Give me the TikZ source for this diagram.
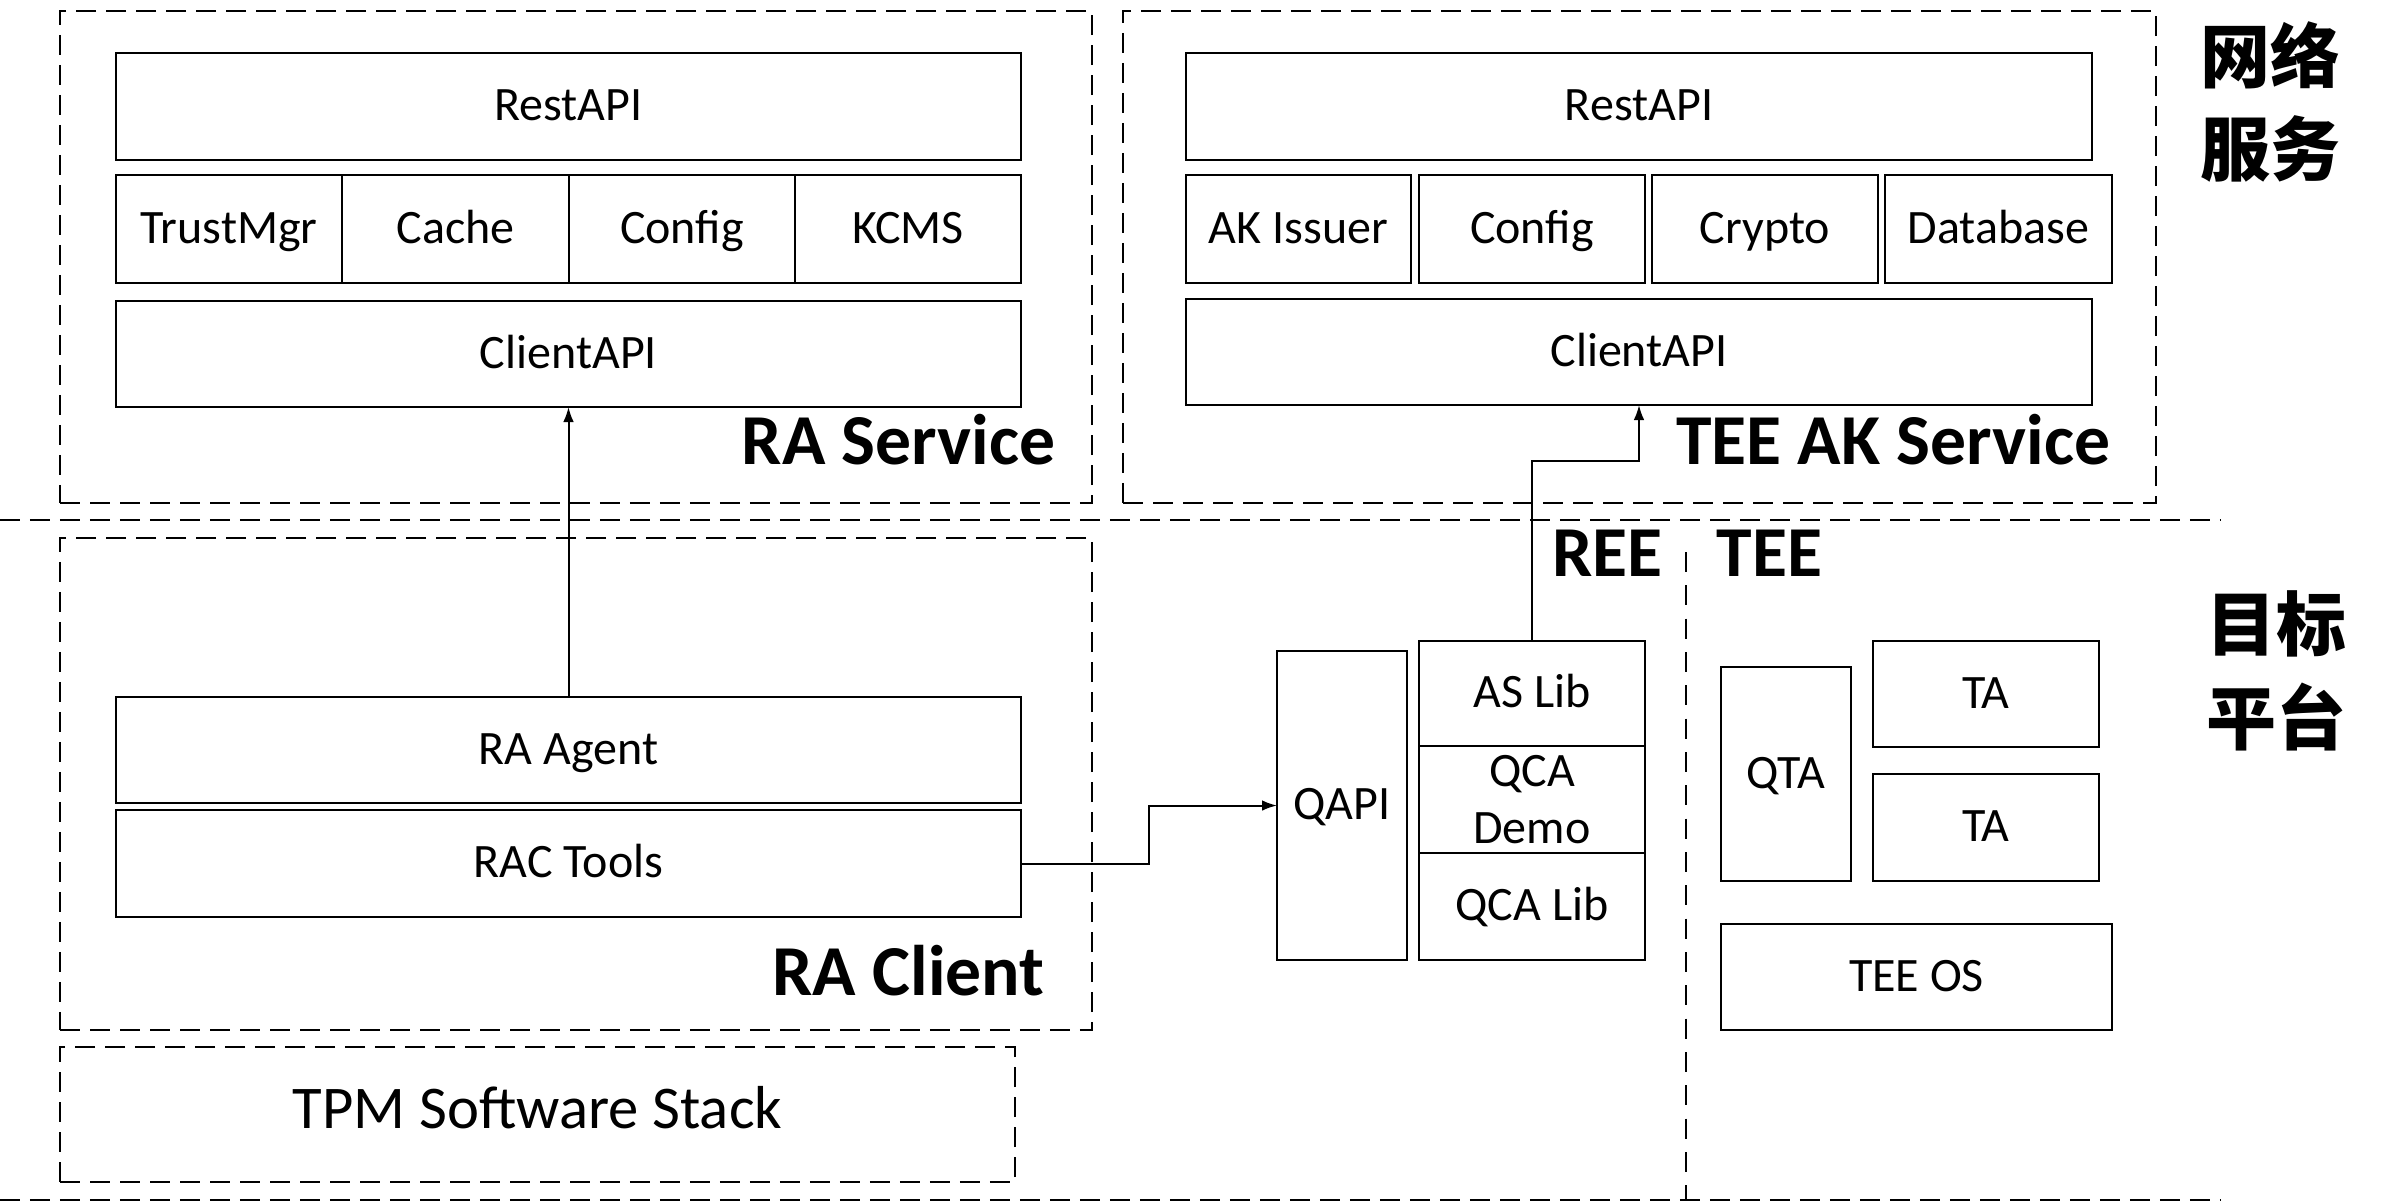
\documentclass[tikz,border=0pt]{standalone}
\usepackage{fontspec}
\setmainfont{Carlito}
\newfontfamily\cjk{Noto Sans CJK SC}
\usetikzlibrary{arrows.meta}
\tikzset{
  boxml/.style={draw, line width=0.75pt, inner sep=0pt, outer sep=0pt, font=\fontsize{14.4}{17.2}\selectfont, align=center},
  box/.style={boxml, text height=0.84em, text depth=0pt},
  dbox/.style={draw, line width=0.85pt, dash pattern=on 6pt off 3pt, inner sep=0pt, outer sep=0pt, text height=0.84em, text depth=0pt},
  dline/.style={line width=0.85pt, dash pattern=on 6pt off 3pt},
  vdline/.style={line width=0.7pt, dash pattern=on 6pt off 4pt},
  biglabel/.style={font=\fontsize{21.5}{25}\selectfont\bfseries, anchor=base east, inner sep=0pt},
  cjklabel/.style={font=\fontsize{21}{28}\selectfont\cjk\bfseries, align=center, inner sep=0pt},
  arr/.style={line width=0.6pt, -{Latex[length=4.5pt,width=3.2pt]}}
}
\newcommand\mybox[7][box]{%
  \node[#1, minimum width={(#5-#3)*0.3pt}, minimum height={(#6-#4)*0.3pt}] (#2) at ({(#3+#5)/2},{(#4+#6)/2}) {#7};}
\begin{document}
\begin{tikzpicture}[x=0.3pt, y=-0.3pt]
\useasboundingbox (0,0) rectangle (2382,1202);
% region separators
\draw[dline] (0,520) -- (2220,520);
\draw[dline] (0,1200) -- (2220,1200);
\draw[vdline] (1686,552) -- (1686,1200);
% dashed groups
\mybox[dbox]{rasvc}{60}{11}{1092}{503}{}
\mybox[dbox]{teesvc}{1123}{11}{2156}{503}{}
\mybox[dbox]{racli}{60}{538}{1092}{1030}{}
\mybox[dbox]{tpm}{60}{1047}{1015}{1182}{\fontsize{18.2}{22}\selectfont TPM Software Stack}
% RA Service
\mybox{rarest}{116}{53}{1021}{160}{RestAPI}
\mybox{trust}{116}{175}{342}{283}{TrustMgr}
\mybox{cache}{342}{175}{569}{283}{Cache}
\mybox{config}{569}{175}{795}{283}{Config}
\mybox{kcms}{795}{175}{1021}{283}{KCMS}
\mybox{raclientapi}{116}{301}{1021}{407}{ClientAPI}
\node[biglabel] (rasvclbl) at (1056,464) {RA Service};
% TEE AK Service
\mybox{teerest}{1186}{53}{2092}{160}{RestAPI}
\mybox{akissuer}{1186}{175}{1411}{283}{AK Issuer}
\mybox{teeconfig}{1419}{175}{1645}{283}{Config}
\mybox{crypto}{1652}{175}{1878}{283}{Crypto}
\mybox{database}{1885}{175}{2112}{283}{Database}
\mybox{teeclientapi}{1186}{299}{2092}{405}{ClientAPI}
\node[biglabel] (teesvclbl) at (2111,464) {TEE AK Service};
% side labels
\node[cjklabel] (netsvc) at (2270,102) {网络\\服务};
\node[cjklabel] (target) at (2276,671) {目标\\平台};
% RA Client
\mybox{raagent}{116}{697}{1021}{803}{RA Agent}
\mybox{ractools}{116}{810}{1021}{917}{RAC Tools}
\node[biglabel] (raclilbl) at (1045,995) {RA Client};
% REE / TEE
\node[biglabel] (reelbl) at (1663,576) {REE};
\node[biglabel] (teelbl) at (1823,576) {TEE};
\mybox{qapi}{1277}{651}{1407}{960}{QAPI}
\mybox{aslib}{1419}{641}{1645}{746}{AS Lib}
\mybox[boxml]{qcademo}{1419}{746}{1645}{853}{QCA\\Demo}
\mybox{qcalib}{1419}{853}{1645}{960}{QCA Lib}
\mybox{qta}{1721}{667}{1851}{881}{QTA}
\mybox{ta1}{1873}{641}{2099}{747}{TA}
\mybox{ta2}{1873}{774}{2099}{881}{TA}
\mybox{teeos}{1721}{924}{2112}{1030}{TEE OS}
% connectors
\draw[arr] (raagent.north) -- (raclientapi.south);
\draw[arr] (aslib.north) -- ++(0,-180) -| (teeclientapi.south);
\draw[arr] (ractools.east) -- ++(128,0) |- (qapi.west);
\end{tikzpicture}
\end{document}
